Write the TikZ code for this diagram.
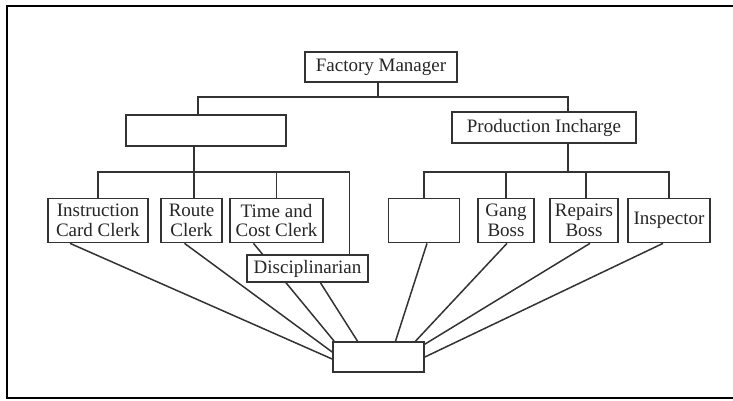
\documentclass[tikz,border=0pt]{standalone}
\usepackage{fontspec}
\setmainfont{Liberation Serif}
\usetikzlibrary{backgrounds}
\begin{document}
\begin{tikzpicture}[x=1pt,y=-1pt,
  box/.style={draw=black!80, fill=white, line width=1.7pt, inner sep=0pt, align=center,
    text=black!85, font=\fontsize{19}{20}\selectfont},
  conn/.style={draw=black!80, line width=1.5pt},
  frame/.style={draw=black, line width=2.6pt, line join=miter}]
\useasboundingbox (0,0) rectangle (733,401);
% frame
\coordinate (fTR) at (733,6);
\coordinate (fTL) at (7,6);
\coordinate (fBL) at (7,398);
\coordinate (fBR) at (733,398);
\draw[frame] (fTR) -- (fTL) -- (fBL) -- (fBR);
% nodes
\node[box, minimum width=152pt, minimum height=30pt] (fm) at (381,67) {Factory Manager};
\node[box, minimum width=160pt, minimum height=31pt] (left) at (206,130.5) {};
\node[box, minimum width=184pt, minimum height=31pt] (pi) at (544,127.5) {Production Incharge};
\node[box, minimum width=100pt, minimum height=44pt] (instr) at (98,220.5) {Instruction\\Card Clerk};
\node[box, minimum width=61pt, minimum height=44pt] (route) at (191.5,220.5) {Route\\Clerk};
\node[box, minimum width=93pt, minimum height=44pt] (time) at (276.5,220.5) {Time and\\Cost Clerk};
\node[box, minimum width=121pt, minimum height=27pt] (disc) at (307.5,268.5) {Disciplinarian};
\node[box, minimum width=71pt, minimum height=44pt] (blank) at (424,220.5) {};
\node[box, minimum width=56pt, minimum height=44pt] (gang) at (506,220.5) {Gang\\Boss};
\node[box, minimum width=68pt, minimum height=44pt] (rep) at (584,220.5) {Repairs\\Boss};
\node[box, minimum width=82pt, minimum height=44pt] (insp) at (669,220.5) {Inspector};
\node[box, minimum width=91pt, minimum height=30pt] (bot) at (378.5,357) {};
% junctions
\coordinate (jTop) at (378,97);
\coordinate (jL) at (194,172);
\coordinate (jR) at (568,172);
\coordinate (xLB) at (198,0);
\coordinate (xD) at (349.5,0);
\coordinate (xRp) at (586,0);
\begin{pgfonlayer}{background}
% tree
\draw[conn] (fm.south -| jTop) -- (jTop);
\draw[conn] (left.north -| xLB) |- (jTop) -| (pi.north -| jR);
\draw[conn] (left.south -| jL) -- (jL);
\draw[conn] (instr.north) |- (jL) -| (disc.north -| xD);
\draw[conn] (route.north -| jL) -- (jL);
\draw[conn] (time.north) -- (time.north |- jL);
\draw[conn] (pi.south -| jR) -- (jR);
\draw[conn] (blank.north) |- (jR) -| (insp.north);
\draw[conn] (gang.north) -- (gang.north |- jR);
\draw[conn] (rep.north -| xRp) -- (xRp |- jR);
% diagonals to bottom box
\draw[conn] ([xshift=-28pt]instr.south) -- ([yshift=-2pt]bot.west);
\draw[conn] ([xshift=-7pt]route.south) -- ([yshift=5pt]bot.west);
\draw[conn] ([xshift=-23pt]time.south) -- ([xshift=2pt]bot.north west);
\draw[conn] ([xshift=13pt]disc.south) -- ([xshift=-21pt]bot.north);
\draw[conn] ([xshift=3pt]blank.south) -- ([xshift=17pt]bot.north);
\draw[conn] ([xshift=1pt]gang.south) -- ([xshift=37pt]bot.north);
\draw[conn] ([xshift=6pt]rep.south) -- ([yshift=-3pt]bot.north east);
\draw[conn] ([xshift=-6pt]insp.south) -- (bot.east);
\end{pgfonlayer}
\end{tikzpicture}
\end{document}
